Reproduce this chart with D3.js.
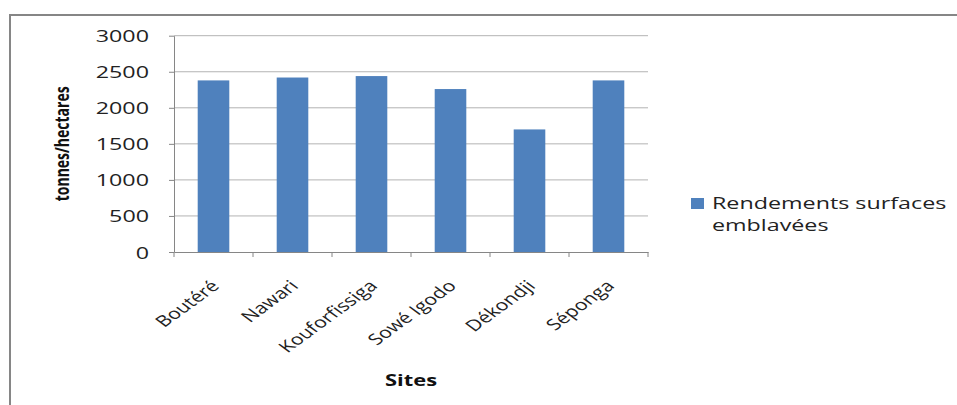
<!DOCTYPE html>
<html><head><meta charset="utf-8">
<script src="https://cdn.jsdelivr.net/npm/d3@7"></script>
<style>body{margin:0;background:#fff}svg{display:block}text{font-variant-ligatures:none}</style>
</head><body>
<svg id="c" width="957" height="405"></svg>
<script>
const categories = ["Boutéré","Nawari","Kouforfissiga","Sowé Igodo","Dékondji","Séponga"];
const values = [2380, 2420, 2440, 2260, 1700, 2380];
const yTicks = [0, 500, 1000, 1500, 2000, 2500, 3000];
const seriesName = ["Rendements surfaces", "emblavées"];
const yTitle = "tonnes/hectares";
const xTitle = "Sites";

const svg = d3.select("#c");
const font = "'Open Sans', sans-serif";
const SX = 1.37; // horizontal stretch of the reference text
const m = {left:174, right:648, top:35.7, bottom:252};

// outer border
svg.append("rect").attr("x",10).attr("y",15).attr("width",960).attr("height",420)
  .attr("fill","#fff").attr("stroke","#868686").attr("stroke-width",2);

const x = d3.scaleBand().domain(categories).range([m.left, m.right]).paddingInner(0.6).paddingOuter(0.3);
const xb = d3.scaleBand().domain(categories).range([m.left, m.right]);
const y = d3.scaleLinear().domain([0,3000]).range([m.bottom, m.top]);

// gridlines
svg.append("g").selectAll("line").data(yTicks.filter(d=>d>0)).join("line")
  .attr("x1",m.left).attr("x2",m.right).attr("y1",d=>y(d)).attr("y2",d=>y(d))
  .attr("stroke","#b3b3b3").attr("stroke-width",1);

// y axis
const ya = svg.append("g").attr("transform",`translate(${m.left},0)`)
  .call(d3.axisLeft(y).tickValues(yTicks).tickFormat(d3.format("d")).tickSize(5).tickPadding(0).tickSizeOuter(0));
ya.select(".domain").attr("stroke","#868686");
ya.selectAll(".tick line").attr("stroke","#868686");
ya.selectAll(".tick text").attr("x",0).attr("dy",null)
  .attr("transform",`translate(-25,6) scale(${SX},1)`)
  .attr("font-family",font).attr("font-size",17).attr("fill","#222");

// bars
svg.append("g").selectAll("rect").data(values).join("rect")
  .attr("x",(d,i)=>x(categories[i])).attr("width",x.bandwidth())
  .attr("y",d=>y(d)).attr("height",d=>y(0)-y(d)).attr("fill","#4f81bd");

// x axis
const xa = svg.append("g").attr("transform",`translate(0,${m.bottom})`)
  .call(d3.axisBottom(xb).tickSize(0).tickSizeOuter(0));
xa.select(".domain").attr("stroke","#868686");
xa.selectAll(".tick text").remove();
const bounds = categories.map(c=>xb(c)).concat([m.right]);
xa.selectAll("line.bt").data(bounds).join("line").attr("class","bt")
  .attr("x1",d=>d).attr("x2",d=>d).attr("y1",0).attr("y2",5).attr("stroke","#868686");
xa.selectAll("text.lbl").data(categories).join("text").attr("class","lbl")
  .attr("transform",d=>`translate(${xb(d)+xb.bandwidth()/2+7},${35}) scale(${SX},1) rotate(-45)`)
  .attr("text-anchor","end").attr("font-family",font).attr("font-size",15.5).attr("fill","#222")
  .text(d=>d);

// axis titles
svg.append("text").attr("transform",`translate(69,${(m.top+m.bottom)/2 + 0}) scale(${SX},1) rotate(-90)`)
  .attr("text-anchor","middle").attr("font-family",font).attr("font-weight","bold")
  .attr("font-size",14).attr("fill","#111").text(yTitle);
svg.append("text").attr("transform",`translate(411,386) scale(${SX},1)`).attr("text-anchor","middle")
  .attr("font-family",font).attr("font-weight","bold").attr("font-size",16).attr("fill","#111").text(xTitle);

// legend
svg.append("rect").attr("x",691).attr("y",198).attr("width",13).attr("height",11).attr("fill","#4f81bd");
svg.append("text").attr("transform",`translate(712,209) scale(${SX},1)`).attr("font-family",font).attr("font-size",17)
  .attr("fill","#222").selectAll("tspan").data(seriesName).join("tspan")
  .attr("x",0).attr("dy",(d,i)=>i?22:0).text(d=>d);
</script>
</body></html>
